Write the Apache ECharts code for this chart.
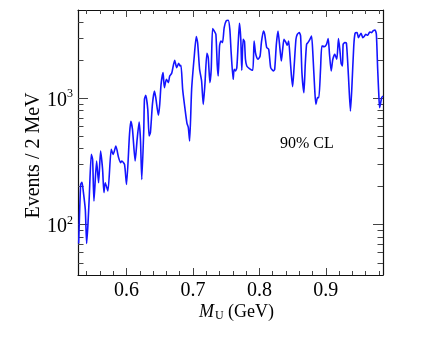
<!DOCTYPE html>
<html>
<head>
<meta charset="utf-8">
<script src="https://cdn.jsdelivr.net/npm/echarts@6/dist/echarts.min.js"></script>
<style>
  html, body { margin: 0; padding: 0; background: #fff; }
  #chart { width: 436px; height: 345px; }
</style>
</head>
<body>
<div id="chart"></div>
<script>
// M_U (GeV)
const massGeV = [
  0.528, 0.531, 0.533, 0.535, 0.538, 0.540, 0.542, 0.544, 0.547, 0.549,
  0.551, 0.555, 0.558, 0.561, 0.564, 0.566, 0.568, 0.572, 0.577, 0.580,
  0.584, 0.588, 0.591, 0.593, 0.597, 0.600, 0.6045, 0.6065, 0.609, 0.613,
  0.616, 0.619, 0.621, 0.623, 0.626, 0.627, 0.629, 0.632, 0.634, 0.636,
  0.639, 0.642, 0.644, 0.648, 0.650, 0.652, 0.655, 0.657, 0.660, 0.663,
  0.665, 0.668, 0.6725, 0.6755, 0.6785, 0.6805, 0.682, 0.6845, 0.6875, 0.691,
  0.693, 0.695, 0.698, 0.702, 0.705, 0.707, 0.710, 0.713, 0.7155, 0.718,
  0.721, 0.723, 0.7255, 0.7275, 0.7295, 0.732, 0.7345, 0.7365, 0.738, 0.740,
  0.742, 0.7445, 0.747, 0.750, 0.753, 0.7555, 0.7575, 0.7605, 0.762, 0.764,
  0.766, 0.768, 0.770, 0.772, 0.7735, 0.7755, 0.7775, 0.779, 0.781, 0.785,
  0.790, 0.792, 0.794, 0.796, 0.798, 0.801, 0.803, 0.806, 0.808, 0.811,
  0.814, 0.817, 0.821, 0.823, 0.8255, 0.828, 0.831, 0.833, 0.835, 0.837,
  0.840, 0.842, 0.844, 0.846, 0.848, 0.850, 0.852, 0.855, 0.857, 0.860,
  0.862, 0.864, 0.867, 0.869, 0.871, 0.873, 0.876, 0.8785, 0.8805, 0.8835,
  0.885, 0.8875, 0.8895, 0.892, 0.894, 0.8975, 0.901, 0.9035, 0.9055, 0.908,
  0.9105, 0.9135, 0.9165, 0.919, 0.921, 0.923, 0.925, 0.926, 0.9285, 0.931,
  0.934, 0.937, 0.939, 0.942, 0.944, 0.947, 0.949, 0.951, 0.953, 0.9555,
  0.958, 0.960, 0.963, 0.966, 0.969, 0.971, 0.974, 0.976, 0.978, 0.980,
  0.981, 0.984, 0.986
];
// Events / 2 MeV (90% CL)
const events = [
  71, 208, 217, 183, 132, 71, 101, 168, 360, 329,
  154, 319, 215, 382, 274, 180, 215, 185, 395, 360,
  419, 341, 310, 319, 300, 208, 519, 658, 568, 319,
  474, 649, 474, 228, 568, 982, 1056, 818, 503, 538,
  896, 1142, 1018, 734, 896, 1291, 1598, 1215, 1414, 1331,
  1502, 1577, 2000, 1750, 1893, 1802, 1825, 1178, 869, 634,
  589, 459, 1178, 2162, 3079, 2761, 1697, 1371, 896, 1291,
  2272, 2101, 1331, 1697, 3563, 3411, 3212, 1858, 1502, 2595,
  2842, 2761, 3628, 4093, 4146, 3517, 2301, 1414, 1697, 1646,
  1750, 2676, 3925, 2932, 1666, 2932, 2827, 2037, 1802, 1719,
  1666, 2842, 2313, 2101, 2037, 2162, 2761, 3411, 3212, 2520,
  2443, 1750, 1646, 1697, 2676, 3411, 2443, 1975, 2443, 2932,
  2761, 2628, 2842, 2162, 1549, 1238, 1697, 2932, 3212, 3313,
  3114, 1598, 1110, 1858, 2676, 2761, 2932, 3114, 2230, 1110,
  896, 1013, 1013, 1697, 2595, 2566, 2676, 2970, 2230, 1646,
  2037, 2230, 2037, 2970, 2443, 1893, 1802, 2676, 2761, 2725,
  1502, 793, 1178, 2595, 3271, 3313, 3023, 3153, 3271, 3023,
  3097, 3212, 3153, 3349, 3313, 3411, 3473, 3212, 1697, 982,
  844, 1013, 1043
];
const xMajorTicks = [0.6, 0.7, 0.8, 0.9];
const xMinorTicks = [0.54, 0.56, 0.58, 0.62, 0.64, 0.66, 0.68, 0.72, 0.74, 0.76, 0.78,
  0.82, 0.84, 0.86, 0.88, 0.92, 0.94, 0.96, 0.98];
const yMajorTicks = [100, 1000];
const yMinorTicks = [50, 60, 70, 80, 90, 200, 300, 400, 500, 600, 700, 800, 900,
  2000, 3000, 4000];

const X_MIN = 0.527, X_MAX = 0.986;
const Y_MIN = 40, Y_MAX = 5000;
const FONT = '"Liberation Serif", "DejaVu Serif", serif';
const frameColor = '#111';
const tickColor = '#444';

function xAxisDef(position, ticks, len, withLabels, showLine) {
  return {
    type: 'value', position: position, min: X_MIN, max: X_MAX,
    axisLine: { show: showLine, onZero: false, lineStyle: { color: frameColor, width: 1.2 } },
    axisTick: { show: true, inside: true, length: len, customValues: ticks,
      lineStyle: { color: tickColor, width: 1 } },
    axisLabel: withLabels ? {
      show: true, customValues: ticks, margin: 6,
      fontFamily: FONT, fontSize: 20, color: '#000',
      formatter: v => v.toFixed(1)
    } : { show: false },
    splitLine: { show: false }
  };
}

function yAxisDef(position, ticks, len, withLabels, showLine) {
  return {
    type: 'log', logBase: 10, position: position, min: Y_MIN, max: Y_MAX,
    axisLine: { show: showLine, lineStyle: { color: frameColor, width: 1.2 } },
    axisTick: { show: true, inside: true, length: len, customValues: ticks,
      lineStyle: { color: tickColor, width: 1 } },
    axisLabel: withLabels ? {
      show: true, customValues: ticks, margin: 5, color: '#000',
      formatter: v => '{b|10}{s|' + Math.round(Math.log10(v)) + '}',
      rich: {
        b: { fontFamily: FONT, fontSize: 20, color: '#000', padding: [4, 0, 0, 0] },
        s: { fontFamily: FONT, fontSize: 12, color: '#000', verticalAlign: 'bottom', padding: [0, 0, 10, 0] }
      }
    } : { show: false },
    splitLine: { show: false }
  };
}

const xMain = xAxisDef('bottom', xMajorTicks, 7, true, true);
xMain.name = '{i|M}{u|U} (GeV)';
xMain.nameLocation = 'middle';
xMain.nameGap = 27;
xMain.nameMoveOverlap = false;
xMain.nameTextStyle = {
  fontFamily: FONT, fontSize: 18, color: '#000', padding: [0, 0, 0, 12],
  rich: {
    i: { fontFamily: FONT, fontSize: 18, fontStyle: 'italic', color: '#000' },
    u: { fontFamily: FONT, fontSize: 12, color: '#000', verticalAlign: 'top', padding: [8, 0, 0, 1] }
  }
};

const yMain = yAxisDef('left', yMajorTicks, 10, true, true);
yMain.name = 'Events / 2 MeV';
yMain.nameLocation = 'middle';
yMain.nameGap = 34;
yMain.nameMoveOverlap = false;
yMain.nameTextStyle = { fontFamily: FONT, fontSize: 20, color: '#000', padding: [0, 26, 0, 0] };

const chart = echarts.init(document.getElementById('chart'));
chart.setOption({
  animation: false,
  backgroundColor: '#fff',
  grid: { left: 78, right: 53, top: 10, bottom: 70 },
  title: {
    text: '90% CL', left: 280, top: 136, padding: 0,
    textStyle: { fontFamily: FONT, fontSize: 16, fontWeight: 'normal', color: '#000' }
  },
  xAxis: [
    xMain,
    xAxisDef('bottom', xMinorTicks, 4, false, false),
    xAxisDef('top', xMajorTicks, 7, false, true),
    xAxisDef('top', xMinorTicks, 4, false, false)
  ],
  yAxis: [
    yMain,
    yAxisDef('left', yMinorTicks, 5.5, false, false),
    yAxisDef('right', yMajorTicks, 10, false, true),
    yAxisDef('right', yMinorTicks, 5.5, false, false)
  ],
  series: [{
    type: 'line',
    xAxisIndex: 0,
    yAxisIndex: 0,
    data: massGeV.map((m, i) => [m, events[i]]),
    showSymbol: false,
    smooth: 0.2,
    lineStyle: { color: '#1414ff', width: 1.6 },
    clip: true
  }]
});
</script>
</body>
</html>
